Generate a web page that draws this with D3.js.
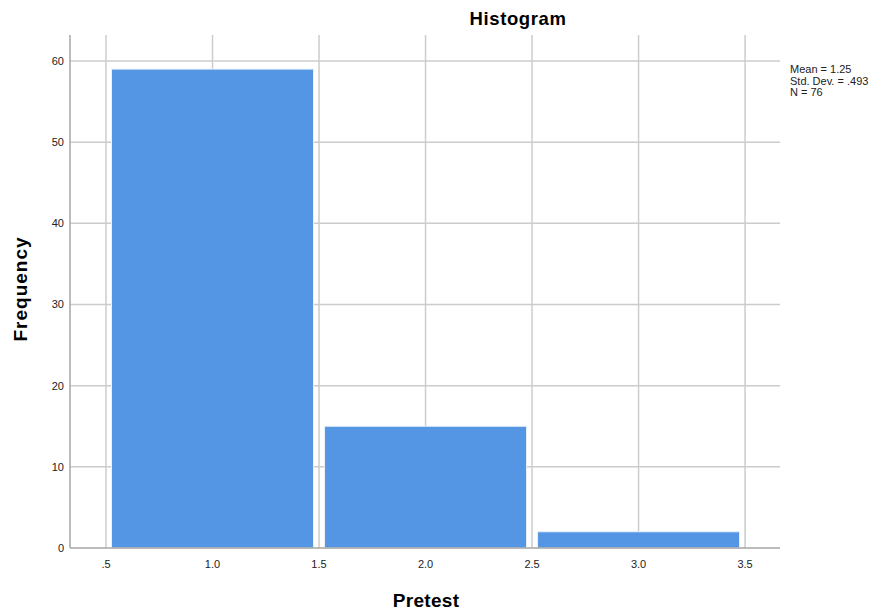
<!DOCTYPE html>
<html>
<head>
<meta charset="utf-8">
<script src="https://cdn.jsdelivr.net/npm/d3@7"></script>
<style>
  body { margin: 0; background: #fff; }
  text { font-family: "Liberation Sans", Arial, sans-serif; }
</style>
</head>
<body>
<svg id="chart" width="890" height="614"></svg>
<script>
// histogram bins (Pretest) and counts
const binStarts = [0.5, 1.5, 2.5];
const binWidth = 1;
const counts = [59, 15, 2];
const xTicks = [0.5, 1.0, 1.5, 2.0, 2.5, 3.0, 3.5];
const yTicks = [0, 10, 20, 30, 40, 50, 60];
const stats = ['Mean = 1.25', 'Std. Dev. = .493', 'N = 76'];

const svg = d3.select('#chart');
const plotLeft = 70, plotRight = 780, plotTop = 35, plotBottom = 548;

const x = d3.scaleLinear().domain([0.331, 3.664]).range([plotLeft, plotRight]);
const y = d3.scaleLinear().domain([0, 63.2]).range([plotBottom, plotTop]);

const fmtX = (d) => d === 0.5 ? '.5' : d3.format('.1f')(d);

// grid lines
svg.append('g')
  .selectAll('line')
  .data(yTicks.slice(1))
  .enter()
  .append('line')
  .attr('x1', plotLeft).attr('x2', plotRight)
  .attr('y1', (d) => y(d)).attr('y2', (d) => y(d))
  .attr('stroke', '#cccccc')
  .attr('stroke-width', 1.5);

svg.append('g')
  .selectAll('line')
  .data(xTicks)
  .enter()
  .append('line')
  .attr('x1', (d) => x(d)).attr('x2', (d) => x(d))
  .attr('y1', plotTop).attr('y2', plotBottom)
  .attr('stroke', '#cccccc')
  .attr('stroke-width', 1.5);

// bars
svg.append('g')
  .selectAll('rect')
  .data(counts)
  .enter()
  .append('rect')
  .attr('x', (d, i) => x(binStarts[i]) + 5.5)
  .attr('width', (d, i) => x(binStarts[i] + binWidth) - x(binStarts[i]) - 11)
  .attr('y', (d) => y(d))
  .attr('height', (d) => y(0) - y(d))
  .attr('fill', '#5596e4')
  .attr('stroke', '#e8f0fa')
  .attr('stroke-width', 1);

// axes lines
svg.append('line')
  .attr('x1', plotLeft).attr('x2', plotLeft)
  .attr('y1', plotTop).attr('y2', plotBottom)
  .attr('stroke', '#a6a6a6').attr('stroke-width', 1.5);
svg.append('line')
  .attr('x1', plotLeft).attr('x2', plotRight)
  .attr('y1', plotBottom).attr('y2', plotBottom)
  .attr('stroke', '#a6a6a6').attr('stroke-width', 1.5);

// tick labels
svg.append('g')
  .selectAll('text')
  .data(yTicks)
  .enter()
  .append('text')
  .attr('x', plotLeft - 6)
  .attr('y', (d) => y(d) + 4)
  .attr('text-anchor', 'end')
  .attr('font-size', 11)
  .attr('fill', '#222')
  .text((d) => d);

svg.append('g')
  .selectAll('text')
  .data(xTicks)
  .enter()
  .append('text')
  .attr('x', (d) => x(d))
  .attr('y', plotBottom + 20)
  .attr('text-anchor', 'middle')
  .attr('font-size', 11)
  .attr('fill', '#222')
  .text(fmtX);

// titles
svg.append('text')
  .attr('x', 518).attr('y', 25)
  .attr('text-anchor', 'middle')
  .attr('font-size', 18.5).attr('font-weight', 'bold')
  .attr('letter-spacing', 0.6)
  .text('Histogram');

svg.append('text')
  .attr('x', 426).attr('y', 607)
  .attr('text-anchor', 'middle')
  .attr('font-size', 19).attr('font-weight', 'bold')
  .attr('letter-spacing', 0.3)
  .text('Pretest');

svg.append('text')
  .attr('transform', 'translate(27, 289) rotate(-90)')
  .attr('text-anchor', 'middle')
  .attr('font-size', 19).attr('font-weight', 'bold')
  .attr('letter-spacing', 1)
  .text('Frequency');

// stats box
svg.append('g')
  .selectAll('text')
  .data(stats)
  .enter()
  .append('text')
  .attr('x', 790)
  .attr('y', (d, i) => 73 + i * 11.5)
  .attr('font-size', 11)
  .attr('fill', '#222')
  .text((d) => d);
</script>
</body>
</html>
